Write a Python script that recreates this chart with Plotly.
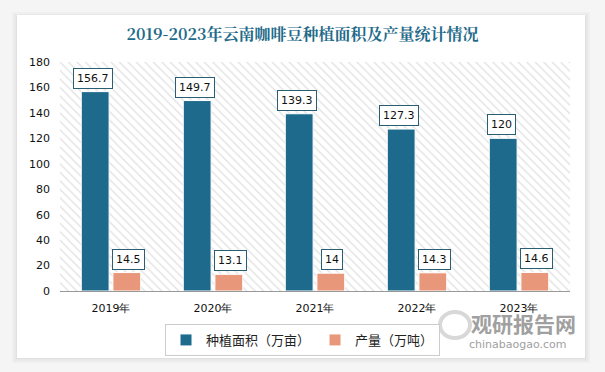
import plotly.graph_objects as go

years = ["2019年", "2020年", "2021年", "2022年", "2023年"]
area = [156.7, 149.7, 139.3, 127.3, 120]
output = [14.5, 13.1, 14, 14.3, 14.6]
area_labels = ["156.7", "149.7", "139.3", "127.3", "120"]
output_labels = ["14.5", "13.1", "14", "14.3", "14.6"]
yticks = [0, 20, 40, 60, 80, 100, 120, 140, 160, 180]

BLUE = "#1D6A8C"
ORANGE = "#E8977B"

W, H = 605.0, 372.0
ML, MR, MT, MB = 60, 35, 62, 81
pw, ph = W - ML - MR, H - MT - MB
def px(x): return (x - ML) / pw
def py(y): return (H - MB - y) / ph

fig = go.Figure()

# hatched plot background on base (hidden) axes
fig.add_trace(go.Scatter(
    x=[0, 1, 1, 0, 0], y=[0, 0, 1, 1, 0], xaxis="x", yaxis="y",
    mode="lines", line=dict(width=0), fill="toself", fillcolor="white",
    fillpattern=dict(shape="\\", fgcolor="#c4c4c4", bgcolor="white", size=6, solidity=0.22),
    hoverinfo="skip", showlegend=False))

fig.add_trace(go.Bar(x=years, y=area, name="种植面积（万亩）", xaxis="x2", yaxis="y2",
                     marker=dict(color=BLUE, line=dict(color="white", width=1))))
fig.add_trace(go.Bar(x=years, y=output, name="产量（万吨）", xaxis="x2", yaxis="y2",
                     marker=dict(color=ORANGE, line=dict(color="white", width=1))))

annos = []
lab_font = dict(family="DejaVu Sans", size=11, color="#111")
for i, (yv, t) in enumerate(zip(area, area_labels)):
    annos.append(dict(x=years[i], y=yv, text=t, xref="x2", yref="y2", showarrow=False,
                      xshift=-18, yshift=3, yanchor="bottom", font=lab_font,
                      bgcolor="white", bordercolor="#2a5f73", borderwidth=1, borderpad=3))
for i, (yv, t) in enumerate(zip(output, output_labels)):
    annos.append(dict(x=years[i], y=yv, text=t, xref="x2", yref="y2", showarrow=False,
                      xshift=17, yshift=3, yanchor="bottom", font=lab_font,
                      bgcolor="white", bordercolor="#2a5f73", borderwidth=1, borderpad=3))

annos.append(dict(x=px(523), y=py(323), xref="paper", yref="paper", showarrow=False,
                  xanchor="center", yanchor="middle",
                  text="<b>观研报告网</b>", font=dict(family="Noto Sans CJK SC", size=21, color="#a0a0a0")))
annos.append(dict(x=px(518), y=py(344), xref="paper", yref="paper", showarrow=False,
                  xanchor="center", yanchor="middle",
                  text="chinabaogao.com", font=dict(family="DejaVu Sans", size=11, color="#a0a0a0")))

bg_shapes = [
    dict(type="rect", xref="paper", yref="paper", x0=px(-5), x1=px(610), y0=py(380), y1=py(-5),
         fillcolor="#f5f5f5", line=dict(width=0), layer="below"),
]
for k, c in enumerate(["#efefef", "#e8e8e8", "#e0e0e0"]):
    d = 5 - 2 * k
    bg_shapes.append(dict(type="rect", xref="paper", yref="paper", x0=px(17 - d), x1=px(585 + d),
                          y0=py(358 + d), y1=py(15 - d + 2), fillcolor=c, line=dict(width=0), layer="below"))
bg_shapes.append(dict(type="rect", xref="paper", yref="paper", x0=px(17), x1=px(585), y0=py(358), y1=py(15),
                      fillcolor="white", line=dict(width=0), layer="below"))
# watermark logo ring
bg_shapes.append(dict(type="circle", xref="paper", yref="paper", x0=px(440), x1=px(470), y0=py(338), y1=py(312),
                      fillcolor="rgba(0,0,0,0)", line=dict(color="#d8d8d8", width=4), layer="above"))

fig.update_layout(
    width=605, height=372,
    margin=dict(l=ML, r=MR, t=MT, b=MB, autoexpand=False),
    paper_bgcolor="white",
    plot_bgcolor="rgba(0,0,0,0)",
    title=dict(text="<b>2019-2023年云南咖啡豆种植面积及产量统计情况</b>",
               x=0.5, xref="container", xanchor="center", y=1 - 34 / H, yref="container", yanchor="middle",
               font=dict(family="Noto Serif CJK SC, Noto Sans CJK SC, serif", size=16, color="#1F6B8A")),
    barmode="group", bargap=0.38, bargroupgap=0.12,
    font=dict(family="DejaVu Sans", size=11, color="#222"),
    xaxis=dict(range=[0, 1], visible=False, fixedrange=True),
    yaxis=dict(range=[0, 1], visible=False, fixedrange=True),
    xaxis2=dict(type="category", range=[-0.5, 4.5], overlaying="x", showgrid=False, showline=True,
                linecolor="#999", linewidth=1, ticks="", tickfont=dict(size=11, color="#111"),
                ticklabelstandoff=7, automargin=False),
    yaxis2=dict(range=[0, 180], tickvals=yticks, overlaying="y", side="left", showgrid=False,
                zeroline=False, showline=False, tickfont=dict(size=11, color="#111"), ticks="",
                ticklabelstandoff=9, automargin=False),
    legend=dict(orientation="h", x=0.5, xref="container", xanchor="center",
                y=1 - 324 / H, yref="container", yanchor="top",
                bordercolor="#cccccc", borderwidth=1, bgcolor="white",
                font=dict(family="Noto Sans CJK SC", size=13, color="#222"),
                itemwidth=30, traceorder="normal"),
    annotations=annos,
    shapes=bg_shapes,
    showlegend=True,
)

fig.write_html("out.html", config={"displayModeBar": False},
               post_script="document.body.style.margin='0';document.body.style.padding='0';")
